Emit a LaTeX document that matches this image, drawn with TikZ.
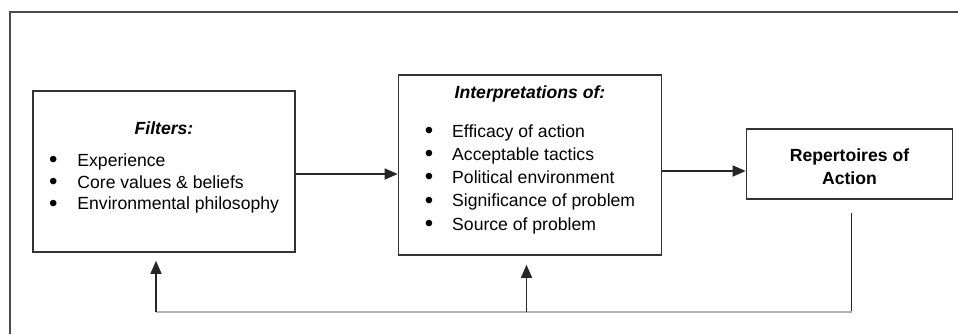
\documentclass[tikz,border=0pt]{standalone}
\usepackage{fontspec}
\setmainfont{Liberation Sans}
\usetikzlibrary{arrows.meta}
\tikzstyle{arrow}=[draw, line width=0.75pt, black!85, -{Triangle[length=6.5pt,width=5.5pt]}]
\tikzstyle{box}=[draw, line width=0.8pt, black!80, text=black, inner sep=0pt]
\tikzstyle{frame}=[draw, line width=0.9pt, black!70]
\tikzstyle{line}=[draw, line width=0.75pt, black!85]
\tikzstyle{back}=[draw, line width=1.1pt, black!30]

\newcommand{\bigdot}{\raisebox{-0.6pt}{\fontsize{12}{12}\selectfont\textbullet}}

\begin{document}
\begin{tikzpicture}[x=0.5pt, y=-0.5pt]
\useasboundingbox (0,0) rectangle (958,334);

\coordinate (framecorner) at (10,12);
\coordinate (frameright) at (958,12);
\coordinate (framebottom) at (10,334);
\draw [frame] (frameright) -- (framecorner) -- (framebottom);

\node (filters) [box, minimum width=131pt, minimum height=80.5pt,
  font=\fontsize{8.8}{10.8}\selectfont] at (164,171.5) {%
  \begin{tabular}{@{}l@{\hspace{10pt}}l@{}}
  \multicolumn{2}{c}{\bfseries\itshape Filters:}\\[5.5pt]
  \bigdot & Experience\\
  \bigdot & Core values \& beliefs\\
  \bigdot & Environmental philosophy\rule[-7pt]{0pt}{7pt}
  \end{tabular}};
\node (interp) [box, minimum width=131.5pt, minimum height=90pt,
  right of=filters, node distance=183pt, yshift=3.25pt,
  font=\fontsize{8.8}{11.6}\selectfont] {%
  \begin{tabular}{@{}l@{\hspace{9.5pt}}l@{}}
  \multicolumn{2}{c}{\bfseries\itshape Interpretations of:}\\[8pt]
  \bigdot & Efficacy of action\\
  \bigdot & Acceptable tactics\\
  \bigdot & Political environment\\
  \bigdot & Significance of problem\\
  \bigdot & Source of problem\rule[-9pt]{0pt}{9pt}
  \end{tabular}};
\node (rep) [box, align=center, minimum width=103pt, minimum height=35pt,
  right of=interp, node distance=159.75pt, yshift=0.5pt,
  font=\fontsize{8.8}{11.5}\selectfont\bfseries] {\rule{0pt}{9pt}Repertoires of\\Action};

\draw [arrow] ([yshift=-1.25pt]filters.east) -- ([yshift=-1.25pt]filters.east -| interp.west);
\draw [arrow] ([yshift=-3pt]interp.east) -- ([yshift=-3pt]interp.east -| rep.west);

% feedback
\coordinate (fbtop) at ([xshift=1pt, yshift=-6.5pt]rep.south);
\coordinate (fbcorner) at (fbtop |- 0,312);
\coordinate (fbleft) at ([xshift=-4pt]filters.south |- fbcorner);
\coordinate (fbmid) at ([xshift=-1.75pt]interp.south |- fbcorner);
\draw [line] (fbtop) -- (fbcorner);
\draw [back] (fbcorner) -- (fbleft);
\draw [arrow] (fbleft) -- ([yshift=-4pt]filters.south -| fbleft);
\draw [arrow] (fbmid) -- ([yshift=-4.5pt]interp.south -| fbmid);

\end{tikzpicture}
\end{document}
